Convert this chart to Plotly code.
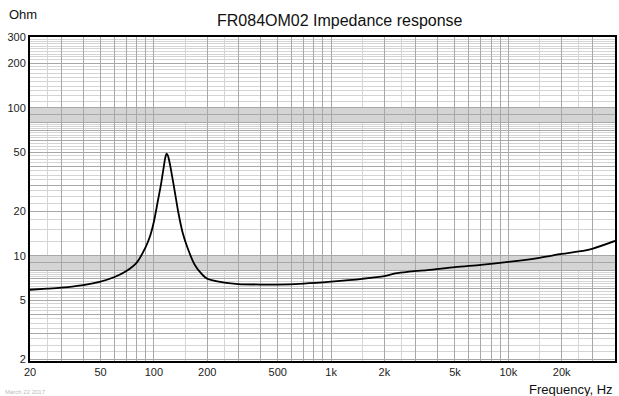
import numpy as np
import plotly.graph_objects as go

# ---- data ----
freq = [20, 25, 30, 40, 50, 60, 70, 80, 90, 95, 100, 105, 110, 113, 116, 118, 120, 123, 127,
        132, 137, 145, 155, 170, 185, 200, 250, 300, 400, 500, 700, 1000, 1500, 2000, 2300,
        2700, 3500, 5000, 7000, 10000, 15000, 20000, 25000, 30000, 40000]
ohm = [5.9, 6.0, 6.1, 6.35, 6.7, 7.2, 7.9, 9.0, 11.5, 13.5, 17, 23, 31, 38, 46, 49, 47.5, 42, 34,
       26, 20, 14.5, 11.3, 8.7, 7.6, 7.0, 6.6, 6.45, 6.4, 6.4, 6.5, 6.7, 7.0, 7.3, 7.6,
       7.8, 8.0, 8.4, 8.7, 9.1, 9.7, 10.3, 10.7, 11.2, 12.6]

x_tick_vals = [20, 50, 100, 200, 500, 1000, 2000, 5000, 10000, 20000, 40000]
x_tick_text = ["20", "50", "100", "200", "500", "1k", "2k", "5k", "10k", "20k", "40k"]
y_tick_vals = [2, 5, 10, 20, 50, 100, 200, 300]
y_tick_text = ["2", "5", "10", "20", "50", "100", "200", "300"]

title_text = "FR084OM02 Impedance response"
y_unit = "Ohm"
x_unit = "Frequency, Hz"
date_text = "March 22 2017"

# ---- grid line sets ----
x_major = []
for d in [10, 100, 1000, 10000]:
    for m in range(1, 10):
        v = m * d
        if 20 <= v <= 40000:
            x_major.append(v)
x_minor = []
for d in [10, 100, 1000, 10000]:
    for m in [1.5, 2.5]:
        v = m * d
        if 20 <= v <= 40000:
            x_minor.append(v)

y_major = [2, 3, 4, 5, 6, 7, 8, 9, 10, 20, 30, 40, 50, 60, 70, 80, 90, 100, 200, 300]
y_minor = []
y_minor += list(np.round(np.arange(2.0, 8.0, 0.25), 3))
y_minor += list(np.round(np.arange(8.0, 10.0, 0.1), 3))
y_minor += list(np.round(np.arange(10.0, 80.0, 2.5), 3))
y_minor += list(np.round(np.arange(80.0, 100.0, 1.0), 3))
y_minor += list(np.round(np.arange(100.0, 300.0, 10.0), 3))
y_minor = [v for v in y_minor if v not in y_major]

ytv = y_major
ytt = [y_tick_text[y_tick_vals.index(v)] if v in y_tick_vals else "" for v in y_major]
xtv = x_major
xtt = [x_tick_text[x_tick_vals.index(v)] if v in x_tick_vals else "" for v in x_major]

fig = go.Figure()
fig.add_trace(go.Scatter(x=freq, y=ohm, mode="lines",
                         line=dict(color="black", width=1.8, shape="spline", smoothing=0.8),
                         hoverinfo="skip"))

font = "Liberation Sans, Arial, sans-serif"
fig.update_layout(
    width=619, height=396,
    margin=dict(l=30, r=2, t=37, b=35),
    paper_bgcolor="white", plot_bgcolor="white",
    showlegend=False,
    font=dict(family=font, size=11, color="#222"),
    xaxis=dict(type="log", range=[np.log10(20), np.log10(40000)],
               tickvals=xtv, ticktext=xtt, ticks="", showgrid=True,
               gridcolor="#a8a8a8", gridwidth=1,
               showline=True, linecolor="black", linewidth=2, mirror=True,
               zeroline=False, tickfont=dict(size=11, color="#222"),
               minor=dict(tickvals=x_minor, showgrid=True, gridcolor="#d4d4d4", gridwidth=1, ticks="")),
    yaxis=dict(type="log", range=[np.log10(1.95), np.log10(300)],
               tickvals=ytv, ticktext=ytt, ticks="", showgrid=True,
               gridcolor="#a8a8a8", gridwidth=1,
               showline=True, linecolor="black", linewidth=2, mirror=True,
               zeroline=False, tickfont=dict(size=11, color="#222"),
               minor=dict(tickvals=y_minor, showgrid=True, gridcolor="#d4d4d4", gridwidth=1, ticks="")),
    annotations=[
        dict(text=title_text, xref="paper", yref="paper", x=0.53, y=1.0, yshift=17,
             xanchor="center", yanchor="middle", showarrow=False,
             font=dict(size=16, family=font, color="#111")),
        dict(text=y_unit, xref="paper", yref="paper", x=0, xshift=-23, y=1.0, yshift=23,
             xanchor="left", yanchor="middle", showarrow=False,
             font=dict(size=13, family=font, color="#111")),
        dict(text=x_unit, xref="paper", yref="paper", x=1.0, y=0, yshift=-28,
             xanchor="right", yanchor="middle", showarrow=False,
             font=dict(size=13, family=font, color="#111")),
        dict(text=date_text, xref="paper", yref="paper", x=0, xshift=-27, y=0, yshift=-31,
             xanchor="left", yanchor="middle", showarrow=False,
             font=dict(size=6, family=font, color="#bbb")),
    ],
)
fig.write_html("out.html")
